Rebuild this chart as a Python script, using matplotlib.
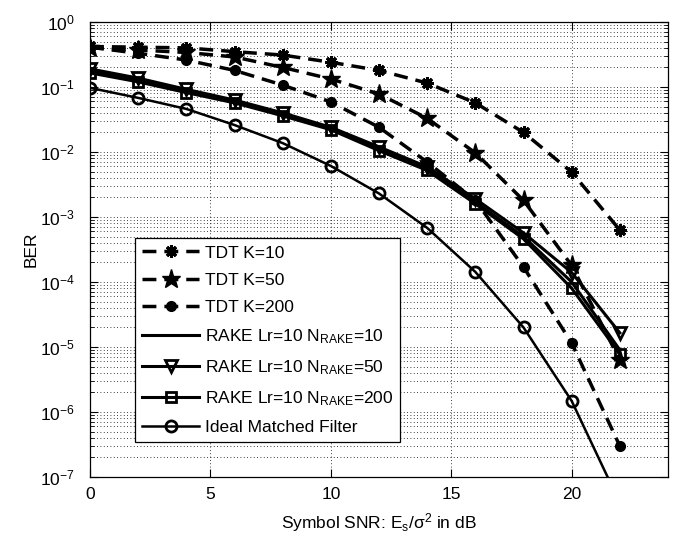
import numpy as np
import matplotlib
matplotlib.use('Agg')
import matplotlib.pyplot as plt

plt.rcParams['font.family'] = ['Liberation Sans', 'DejaVu Sans']
plt.rcParams['mathtext.default'] = 'regular'
plt.rcParams['mathtext.fontset'] = 'custom'
plt.rcParams['mathtext.rm'] = 'Liberation Sans'
plt.rcParams['mathtext.it'] = 'Liberation Sans'

snr = [0, 2, 4, 6, 8, 10, 12, 14, 16, 18, 20, 22]

tdt_k10 = [0.42, 0.41, 0.40, 0.35, 0.31, 0.24, 0.18, 0.115, 0.057, 0.020, 0.0049, 6.3e-4]
tdt_k50 = [0.40, 0.37, 0.34, 0.29, 0.20, 0.133, 0.078, 0.033, 0.0097, 0.0018, 1.8e-4, 6.3e-6]
tdt_k200 = [0.41, 0.33, 0.26, 0.18, 0.107, 0.059, 0.024, 0.007, 0.0018, 1.7e-4, 1.15e-5, 3.0e-7]
rake_n10 = [0.175, 0.128, 0.086, 0.060, 0.038, 0.023, 0.0112, 0.0055, 0.0017, 5.0e-4, 1.0e-4, 9e-6]
rake_n50 = [0.19, 0.137, 0.092, 0.063, 0.040, 0.024, 0.012, 0.0059, 0.0019, 5.7e-4, 1.4e-4, 1.65e-5]
rake_n200 = [0.165, 0.12, 0.082, 0.057, 0.036, 0.022, 0.0105, 0.0052, 0.0016, 4.6e-4, 8e-5, 7.8e-6]
ideal = [0.097, 0.068, 0.046, 0.026, 0.0137, 0.0061, 0.0023, 6.8e-4, 1.43e-4, 2.0e-5, 1.48e-6, 4e-8]

labels = ['TDT K=10', 'TDT K=50', 'TDT K=200',
          'RAKE Lr=10 N$_{RAKE}$=10', 'RAKE Lr=10 N$_{RAKE}$=50',
          'RAKE Lr=10 N$_{RAKE}$=200', 'Ideal Matched Filter']

fig = plt.figure(figsize=(6.79, 5.40), dpi=100)
ax = fig.add_axes([90/679, 1-477/540, 578/679, 455/540])

dash = (4, 2.3)
ax.semilogy(snr, tdt_k10, color='k', lw=2.5, dashes=dash, marker=(8, 2, 0), ms=9, mew=2.2, label=labels[0])
ax.semilogy(snr, tdt_k50, color='k', lw=2.5, dashes=dash, marker='*', ms=14, label=labels[1])
ax.semilogy(snr, tdt_k200, color='k', lw=2.5, dashes=dash, marker='o', ms=7, label=labels[2])
ax.semilogy(snr, rake_n10, color='k', lw=2.2, label=labels[3])
ax.semilogy(snr, rake_n50, color='k', lw=2.2, marker='v', ms=9, mfc='none', mew=2, label=labels[4])
ax.semilogy(snr, rake_n200, color='k', lw=2.2, marker='s', ms=7, mfc='none', mew=2, label=labels[5])
ax.semilogy(snr, ideal, color='k', lw=1.8, marker='o', ms=8, mfc='none', mew=2, label=labels[6])

ax.set_xlim(0, 24)
ax.set_ylim(1e-7, 1)
ax.set_xticks([0, 5, 10, 15, 20])
ax.set_yticks([10.0**k for k in range(-7, 1)])
ax.tick_params(which='both', direction='in', top=True, right=True, labelsize=12.5)
ax.tick_params(which='major', length=6, width=0.8)
ax.tick_params(which='minor', length=3, width=0.6)
ax.tick_params(axis='x', which='minor', top=False, bottom=False)
ax.tick_params(axis='y', pad=11)
ax.tick_params(axis='x', pad=7)
ax.grid(True, which='major', color='k', linestyle=(0, (1, 3)), lw=0.6)
ax.grid(True, which='minor', axis='y', color='k', linestyle=(0, (1, 3)), lw=0.6)
for s in ax.spines.values():
    s.set_linewidth(0.9)

ax.set_ylabel('BER', fontsize=12.5, labelpad=1)
ax.set_xlabel('Symbol SNR: E$_s$/$\\sigma^2$ in dB', fontsize=12.5, labelpad=7)

leg = ax.legend(loc='lower left', bbox_to_anchor=(0.078, 0.077), fontsize=12.5,
                numpoints=1, handlelength=3.3, fancybox=False, framealpha=1,
                edgecolor='k', borderaxespad=0, labelspacing=0.7,
                handletextpad=0.3, borderpad=0.4)
leg.get_frame().set_linewidth(0.9)

fig.savefig('out.png', dpi=100)
